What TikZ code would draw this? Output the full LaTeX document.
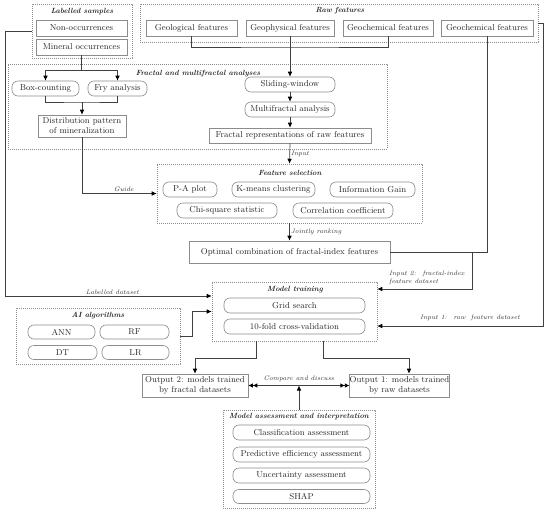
\documentclass[tikz,border=0pt]{standalone}
\usetikzlibrary{arrows.meta,calc}
\begin{document}
\begin{tikzpicture}[x=1pt,y=-1pt,
 base/.style={font=\fontsize{8.6}{10}\selectfont, text=black!85, inner sep=0pt, align=center},
 rbox/.style={base, draw=black!45, rounded corners=6pt, line width=0.6pt},
 sbox/.style={base, draw=black!45, line width=0.6pt},
 grp/.style={draw=black!45, dash pattern=on 0.9pt off 1.1pt, line width=0.55pt, inner sep=0pt},
 ttl/.style={font=\fontsize{7.5}{9}\selectfont\bfseries\itshape, text=black!85, inner sep=0pt},
 lbl/.style={font=\fontsize{6.5}{7.7}\selectfont\itshape, text=black!80, inner sep=1pt},
 con/.style={draw=black!75, line width=0.7pt},
 arr/.style={con, -{Latex[length=5pt,width=4.6pt,color=black]}},
 darr/.style={con, {Latex[length=4.5pt,width=4.5pt,color=black] Latex[length=4.5pt,width=4.5pt,color=black]}-{Latex[length=4.5pt,width=4.5pt,color=black] Latex[length=4.5pt,width=4.5pt,color=black]}},
]
\useasboundingbox (0,0) rectangle (550,512);

% ---- Labelled samples
\node[grp, minimum width=100pt, minimum height=54pt] (lab) at (82,31) {};
\node[ttl] (labt) at (82,12) {Labelled samples};
\node[sbox, minimum width=91pt, minimum height=16pt] (non) at (81.5,28) {Non-occurrences};
\node[sbox, minimum width=91pt, minimum height=16pt] (min) at (81.5,47) {Mineral occurrences};

% ---- Raw features
\node[grp, minimum width=398pt, minimum height=38pt] (raw) at (339,23) {};
\node[ttl] (rawt) at (340,11) {Raw features};
\node[sbox, minimum width=91pt, minimum height=16pt] (geo) at (191.5,28) {Geological features};
\node[sbox, minimum width=88pt, minimum height=16pt] (gph) at (290,28) {Geophysical features};
\node[sbox, minimum width=90pt, minimum height=16pt] (gch) at (388,28) {Geochemical features};
\node[sbox, minimum width=92pt, minimum height=16pt] (gch2) at (487,28) {Geochemical features};

% ---- Fractal and multifractal analyses
\node[grp, minimum width=379pt, minimum height=85pt] (frac) at (197.5,106.5) {};
\node[ttl] (fract) at (198,74) {Fractal and multifractal analyses};
\node[rbox, minimum width=67pt, minimum height=15pt] (box) at (45.5,88.5) {Box-counting};
\node[rbox, minimum width=59pt, minimum height=15pt] (fry) at (117.5,88.5) {Fry analysis};
\node[sbox, minimum width=88pt, minimum height=22pt] (dist) at (82,126) {\fontsize{8.6}{9.5}\selectfont Distribution pattern\\ of mineralization};
\node[rbox, minimum width=90pt, minimum height=15pt] (slide) at (290,84.5) {Sliding-window};
\node[rbox, minimum width=90pt, minimum height=15pt] (multi) at (290,109.5) {Multifractal analysis};
\node[sbox, minimum width=162pt, minimum height=15pt] (frep) at (290,135.5) {Fractal representations of raw features};

% ---- Feature selection
\node[grp, minimum width=265pt, minimum height=59pt] (fs) at (289.5,193.5) {};
\node[ttl] (fst) at (290,173) {Feature selection};
\node[rbox, minimum width=54pt, minimum height=15pt] (pa) at (190,189.5) {P-A plot};
\node[rbox, minimum width=83pt, minimum height=15pt] (km) at (273.5,189.5) {K-means clustering};
\node[rbox, minimum width=85pt, minimum height=15pt] (ig) at (372.5,189.5) {Information Gain};
\node[rbox, minimum width=100pt, minimum height=15pt] (chi) at (227,210.5) {Chi-square statistic};
\node[rbox, minimum width=100pt, minimum height=15pt] (cc) at (343,210.5) {Correlation coefficient};

\node[sbox, minimum width=201pt, minimum height=22pt] (opt) at (289.5,252) {Optimal combination of fractal-index features};

% ---- Model training
\node[grp, minimum width=165pt, minimum height=59pt] (mt) at (294.5,311.5) {};
\node[ttl] (mtt) at (295,290) {Model training};
\node[rbox, minimum width=141pt, minimum height=15pt] (gs) at (294.5,305.5) {Grid search};
\node[rbox, minimum width=141pt, minimum height=15pt] (cv) at (294.5,326.5) {10-fold cross-validation};

% ---- AI algorithms
\node[grp, minimum width=164pt, minimum height=56pt] (ai) at (98,336) {};
\node[ttl] (ait) at (98,316) {AI algorithms};
\node[rbox, minimum width=67pt, minimum height=14pt] (ann) at (61.5,332) {ANN};
\node[rbox, minimum width=69pt, minimum height=14pt] (rf) at (134.5,332) {RF};
\node[rbox, minimum width=69pt, minimum height=14pt] (dt) at (62.5,352.5) {DT};
\node[rbox, minimum width=67pt, minimum height=14pt] (lr) at (135.5,352.5) {LR};

% ---- Outputs
\node[sbox, minimum width=106pt, minimum height=23pt] (out2) at (195,385.5) {\fontsize{8.6}{9.5}\selectfont Output 2: models trained\\ by fractal datasets};
\node[sbox, minimum width=89pt, minimum height=23pt] (out1) at (399.5,385.5) {\fontsize{8.6}{9.5}\selectfont Output 1: models trained\\ by raw datasets};

% ---- Model assessment
\node[grp, minimum width=152pt, minimum height=98pt] (ma) at (299,459) {};
\node[ttl] (mat) at (299,417) {Model assessment and interpretation};
\node[rbox, minimum width=137pt, minimum height=15pt] (ca) at (301.5,432.5) {Classification assessment};
\node[rbox, minimum width=137pt, minimum height=15pt] (pe) at (301.5,454.5) {Predictive efficiency assessment};
\node[rbox, minimum width=137pt, minimum height=15pt] (ua) at (301.5,475.5) {Uncertainty assessment};
\node[rbox, minimum width=137pt, minimum height=14pt] (shap) at (301.5,496.5) {SHAP};

% ---- Connectors
\coordinate (lc) at (5,296);
\draw[arr] (lab.west) -| (lc) -- ([yshift=15.5pt]mt.west) node[lbl, pos=0.52, above] {Labelled dataset};

\coordinate (sp1) at (81.5,70);
\draw[con] (min.south) -- (sp1);
\draw[arr] (sp1) -| (box.north);
\draw[arr] (sp1) -| (fry.north);
\coordinate (j1) at (82,102);
\draw[con] (box.south) |- (j1) -| (fry.south);
\draw[arr] (j1) -- (dist.north);
\draw[arr] (dist.south) |- (fs.west) node[lbl, pos=0.78, above=1pt] {Guide};

\coordinate (j2) at (290,47);
\draw[con] (geo.south) |- (j2) -| (gch.south);
\draw[arr] (gph.south) -- (slide.north);
\draw[arr] (slide.south) -- (multi.north);
\draw[arr] (multi.south) -- (frep.north);
\draw[arr] (frep.south) -- (fs.north) node[lbl, midway, right] {Input};
\draw[arr] (fs.south) -- (opt.north) node[lbl, midway, right] {Jointly ranking};

\draw[con] (gch2.south) |- (opt.east);
\coordinate (in2) at (472,252);
\draw[arr] (in2) |- ([yshift=22.5pt]mt.east);
\node[lbl, anchor=west, align=left] (in2l) at (388,278) {Input 2: \ fractal-index\\ feature dataset};

\coordinate (rc) at (543,23);
\draw[arr] (raw.east) -- (rc) |- ([yshift=-14.5pt]mt.east);
\node[lbl] (in1l) at (470,318) {Input 1: \ raw \ feature dataset};

\coordinate (aic) at (192,336);
\draw[arr] (ai.east) -- (aic) |- (mt.west);

\draw[arr] ([xshift=-38.5pt]mt.south) -- ++(0,17) -| (out2.north);
\draw[arr] ([xshift=28.5pt]mt.south) -- ++(0,17) -| ([xshift=9.5pt]out1.north);

\draw[darr] (out2.east) -- (out1.west) node[lbl, midway, above=2pt] {Compare and discuss};
\draw[arr] (ma.north) -- (ma.north |- out1.west);
\end{tikzpicture}
\end{document}
